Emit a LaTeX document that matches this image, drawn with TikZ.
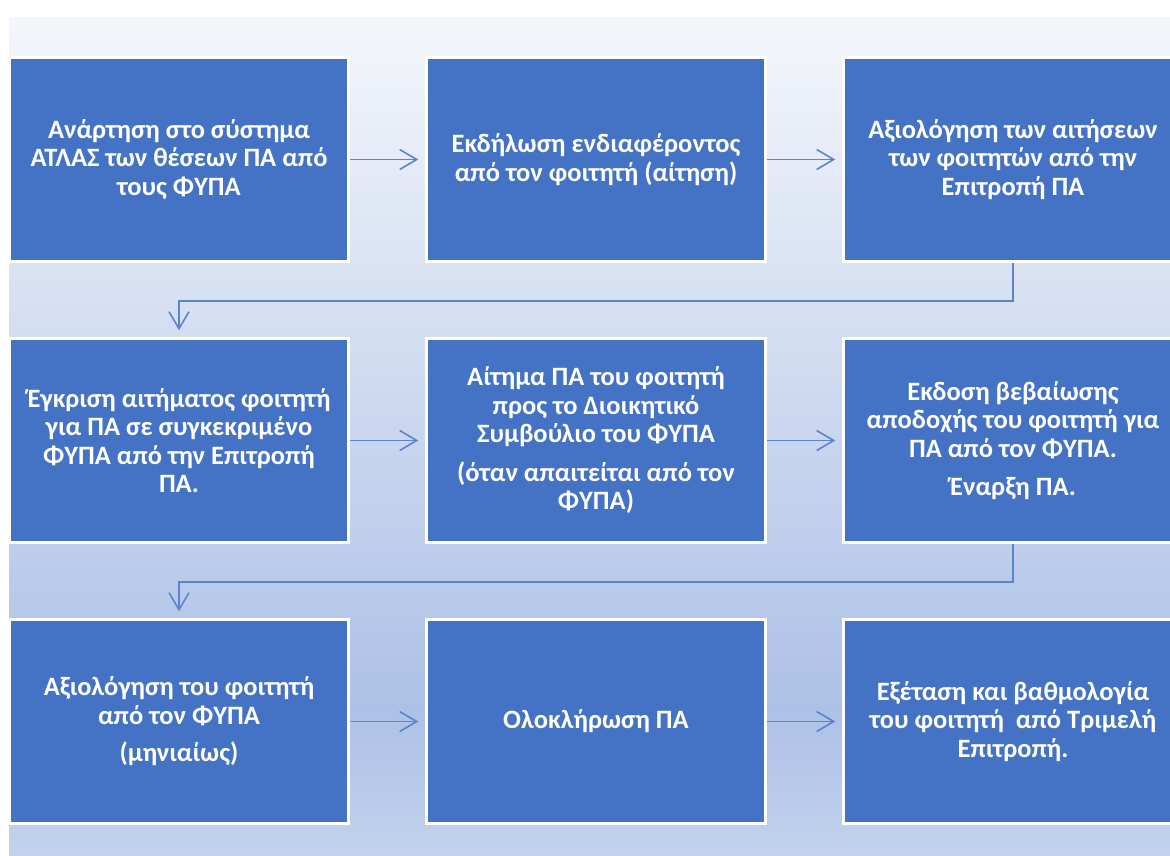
\documentclass[tikz,border=0pt]{standalone}
\usepackage{fontspec}
\setmainfont{Carlito}
\usepackage{xcolor}
\usepackage{tikz}
\usetikzlibrary{positioning,arrows.meta}

\definecolor{boxblue}{HTML}{4472C4}
\definecolor{linkblue}{HTML}{5B84CC}
\definecolor{bgtop}{HTML}{F4F6FB}
\definecolor{bgmid}{HTML}{ADC1E6}
\definecolor{bgbot}{HTML}{C3D3ED}
\pgfdeclareverticalshading{bgfade}{100bp}{color(0bp)=(bgbot); color(25bp)=(bgbot);
  color(34bp)=(bgmid); color(75bp)=(bgtop); color(100bp)=(bgtop)}

\begin{document}
\begin{tikzpicture}[x=1pt,y=-1pt,
  node distance=74.5pt and 75.5pt,
  stepbox/.style={rectangle,draw=white,line width=2.5pt,fill=boxblue,
    minimum width=339pt,minimum height=204pt,inner sep=0pt,align=center,
    text=white,font=\fontsize{26.5}{28.5}\selectfont\bfseries},
  link/.style={draw=linkblue,line width=1.6pt,shorten >=7pt,
    -{Straight Barb[length=17pt,width=20pt]}}]
  \useasboundingbox (0,0) rectangle (1170,855);
  \shade[shading=bgfade] (9,17) rectangle (1180,860);
  % first row
  \node[stepbox] (a1) at (179,159.5) {Ανάρτηση στο σύστημα\\ΑΤΛΑΣ των θέσεων ΠΑ από\\τους ΦΥΠΑ};
  \node[stepbox,right=of a1] (a2) {Εκδήλωση ενδιαφέροντος\\από τον φοιτητή (αίτηση)};
  \node[stepbox,right=of a2] (a3) {Αξιολόγηση των αιτήσεων\\των φοιτητών από την\\Επιτροπή ΠΑ};
  % second row
  \node[stepbox,below=of a1] (b1) {Έγκριση αιτήματος φοιτητή\\για ΠΑ σε συγκεκριμένο\\ΦΥΠΑ από την Επιτροπή\\ΠΑ.};
  \node[stepbox,right=of b1] (b2) {Αίτημα ΠΑ του φοιτητή\\προς το Διοικητικό\\Συμβούλιο του ΦΥΠΑ\\[10pt](όταν απαιτείται από τον\\ΦΥΠΑ)};
  \node[stepbox,right=of b2] (b3) {Εκδοση βεβαίωσης\\αποδοχής του φοιτητή για\\ΠΑ από τον ΦΥΠΑ.\\[10pt]Έναρξη ΠΑ.};
  % third row
  \node[stepbox,below=of b1] (c1) {Αξιολόγηση του φοιτητή\\από τον ΦΥΠΑ\\[9pt](μηνιαίως)};
  \node[stepbox,right=of c1] (c2) {Ολοκλήρωση ΠΑ};
  \node[stepbox,right=of c2] (c3) {Εξέταση και βαθμολογία\\του φοιτητή\ \ από Τριμελή\\Επιτροπή.};
  % connectors
  \draw[link] (a1) -- (a2);
  \draw[link] (a2) -- (a3);
  \draw[link] (a3.south) -- ++(0,38) -| (b1.north);
  \draw[link] (b1) -- (b2);
  \draw[link] (b2) -- (b3);
  \draw[link] (b3.south) -- ++(0,38) -| (c1.north);
  \draw[link] (c1) -- (c2);
  \draw[link] (c2) -- (c3);
\end{tikzpicture}
\end{document}
